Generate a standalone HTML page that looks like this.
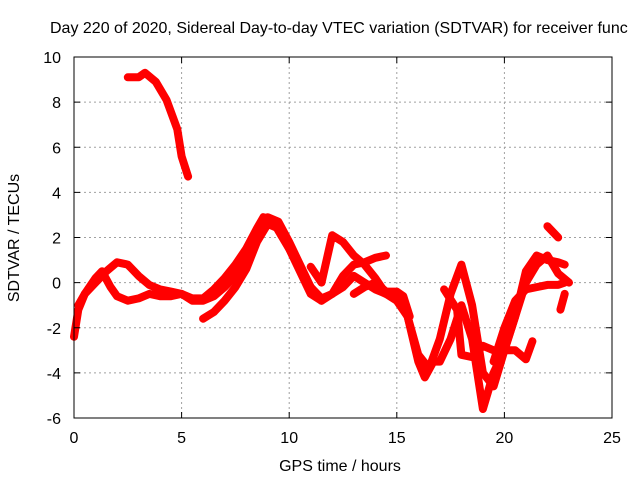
<!DOCTYPE html>
<html><head><meta charset="utf-8"><style>
body{margin:0;background:#fff}
svg{display:block;font-family:"Liberation Sans",sans-serif}
</style></head><body>
<svg id="chart" width="640" height="480">
<text x="50" y="33" font-size="16" fill="#000">Day 220 of 2020, Sidereal Day-to-day VTEC variation (SDTVAR) for receiver func</text>
<g id="grid"></g>
<g id="series"></g>
<rect x="74" y="57" width="538" height="361" fill="none" stroke="#000" stroke-width="1"/>
<g id="ticks"></g>
<text x="340" y="471" font-size="16" text-anchor="middle">GPS time / hours</text>
<text transform="translate(19,238) rotate(-90)" font-size="16" text-anchor="middle">SDTVAR / TECUs</text>
</svg>
<script>
const xTicks=[0,5,10,15,20,25];
const yTicks=[-6,-4,-2,0,2,4,6,8,10];
const track1=[[2.5,9.1],[3,9.1],[3.3,9.3],[3.8,8.9],[4.3,8.1],[4.8,6.8],[5,5.6],[5.3,4.7]];
const track2=[[0,-2.4],[0.2,-1.2],[0.5,-0.5],[1,0],[1.5,0.5],[2,0.9],[2.5,0.8],[3,0.3],[3.5,-0.1],[4,-0.3],[4.5,-0.4],[5,-0.5],[5.5,-0.7],[6,-0.7],[6.5,-0.3],[7,0.2],[7.5,0.8],[8,1.5],[8.5,2.4],[8.8,2.9],[9.2,2.8],[9.5,2.3],[10,1.5],[10.5,0.6],[11,-0.2],[11.5,-0.7],[12,-0.5],[12.5,0.3],[13,0.8],[13.5,0.9],[14,1.1],[14.5,1.2]];
const track3=[[0.2,-1],[0.5,-0.5],[1,0.2],[1.3,0.5],[1.7,-0.2],[2,-0.6],[2.5,-0.8],[3,-0.7],[3.5,-0.5],[4,-0.6],[4.5,-0.6],[5,-0.5],[5.5,-0.8],[6,-0.8],[6.5,-0.6],[7,-0.2],[7.5,0.3],[8,1],[8.5,2.2],[9,2.9],[9.5,2.7],[10,1.8],[10.5,0.8],[11,-0.2],[11.5,-0.8],[12,-0.5],[12.5,-0.2],[13,0.3],[13.5,0],[14,-0.3],[14.5,-0.5],[15,-0.6],[15.5,-1.5],[16,-3.5],[16.3,-4.2],[16.7,-3.5],[17,-3.5],[17.5,-2.5],[18,-1],[18.5,-2.5],[19,-5.6],[19.5,-4],[20,-3],[20.5,-1.5],[21,0.5],[21.5,1.2],[22,1],[22.5,0.9],[22.8,0.8]];
const track4=[[6,-1.6],[6.5,-1.3],[7,-0.8],[7.5,-0.2],[8,0.6],[8.5,1.8],[9,2.6],[9.5,2.4],[10,1.5],[11,-0.5],[11.5,-0.8]];
const track5=[[11,0.7],[11.5,0],[12,2.1],[12.5,1.8],[13,1.2],[13.5,0.8],[14,0.2],[14.5,-0.5],[15,-0.8],[15.5,-1.5],[16,-3.2],[16.5,-3.8],[17,-2.5],[17.5,-0.5],[18,0.8],[18.5,-1],[19,-4],[19.5,-4.6],[20,-3],[20.5,-1.5],[21,0],[21.5,0.8],[22,1.2],[22.5,0.4],[23,0]];
const track6=[[13,-0.5],[13.5,-0.2],[14,0],[14.5,-0.4],[15,-0.4],[15.3,-0.6],[15.6,-1.5]];
const track7=[[17.2,-0.3],[17.8,-1.2],[18,-3.2],[18.5,-3.3],[19,-2.8],[19.5,-3],[20,-3],[20.5,-3],[21,-3.4],[21.3,-2.6]];
const track8=[[19.5,-3.5],[20,-2],[20.5,-0.8],[21,-0.3],[21.5,-0.2],[22,-0.1],[22.5,-0.1],[22.8,0]];
const track9=[[22,2.5],[22.5,2]];
const track10=[[22.6,-1.2],[22.8,-0.5]];
const tracks=[track1,track2,track3,track4,track5,track6,track7,track8,track9,track10];

const X0=74,X1=612,Y0=418,Y1=57;
function sx(h){return X0+(h-0)/(25-0)*(X1-X0);}
function sy(v){return Y0-(v+6)/(16)*(Y0-Y1);}
const NS="http://www.w3.org/2000/svg";
const grid=document.getElementById('grid'),ticks=document.getElementById('ticks'),ser=document.getElementById('series');
function mk(tag,attrs,parent){const e=document.createElementNS(NS,tag);for(const k in attrs)e.setAttribute(k,attrs[k]);parent.appendChild(e);return e;}
xTicks.forEach(t=>{
  const x=sx(t);
  if(t>0&&t<25){const g=mk('line',{x1:x,x2:x,y1:Y1,y2:Y0,stroke:'#a0a0a0','stroke-dasharray':'2,3'},grid);
  
  }
  mk('line',{x1:x,x2:x,y1:Y0,y2:Y0-6,stroke:'#000'},ticks);
  mk('line',{x1:x,x2:x,y1:Y1,y2:Y1+6,stroke:'#000'},ticks);
  const l=mk('text',{x:x,y:Y0+25,'font-size':16,'text-anchor':'middle'},ticks);l.textContent=t;
  
  
});
yTicks.forEach(t=>{
  const y=sy(t);
  if(t>-6&&t<10){const g=mk('line',{x1:X0,x2:X1,y1:y,y2:y,stroke:'#a0a0a0','stroke-dasharray':'2,3'},grid);
  
  }
  mk('line',{x1:X0,x2:X0+6,y1:y,y2:y,stroke:'#000'},ticks);
  mk('line',{x1:X1,x2:X1-6,y1:y,y2:y,stroke:'#000'},ticks);
  const l=mk('text',{x:X0-13,y:y+6,'font-size':16,'text-anchor':'end'},ticks);l.textContent=t;
  
  
});
tracks.forEach((tr,i)=>{
  const d=tr.map((p,j)=>(j?'L':'M')+sx(p[0]).toFixed(1)+','+sy(p[1]).toFixed(1)).join(' ');
  const p=mk('path',{d:d,fill:'none',stroke:'#ff0000','stroke-width':8,'stroke-linejoin':'round','stroke-linecap':'round'},ser);
  
  
});
</script>
</body></html>
